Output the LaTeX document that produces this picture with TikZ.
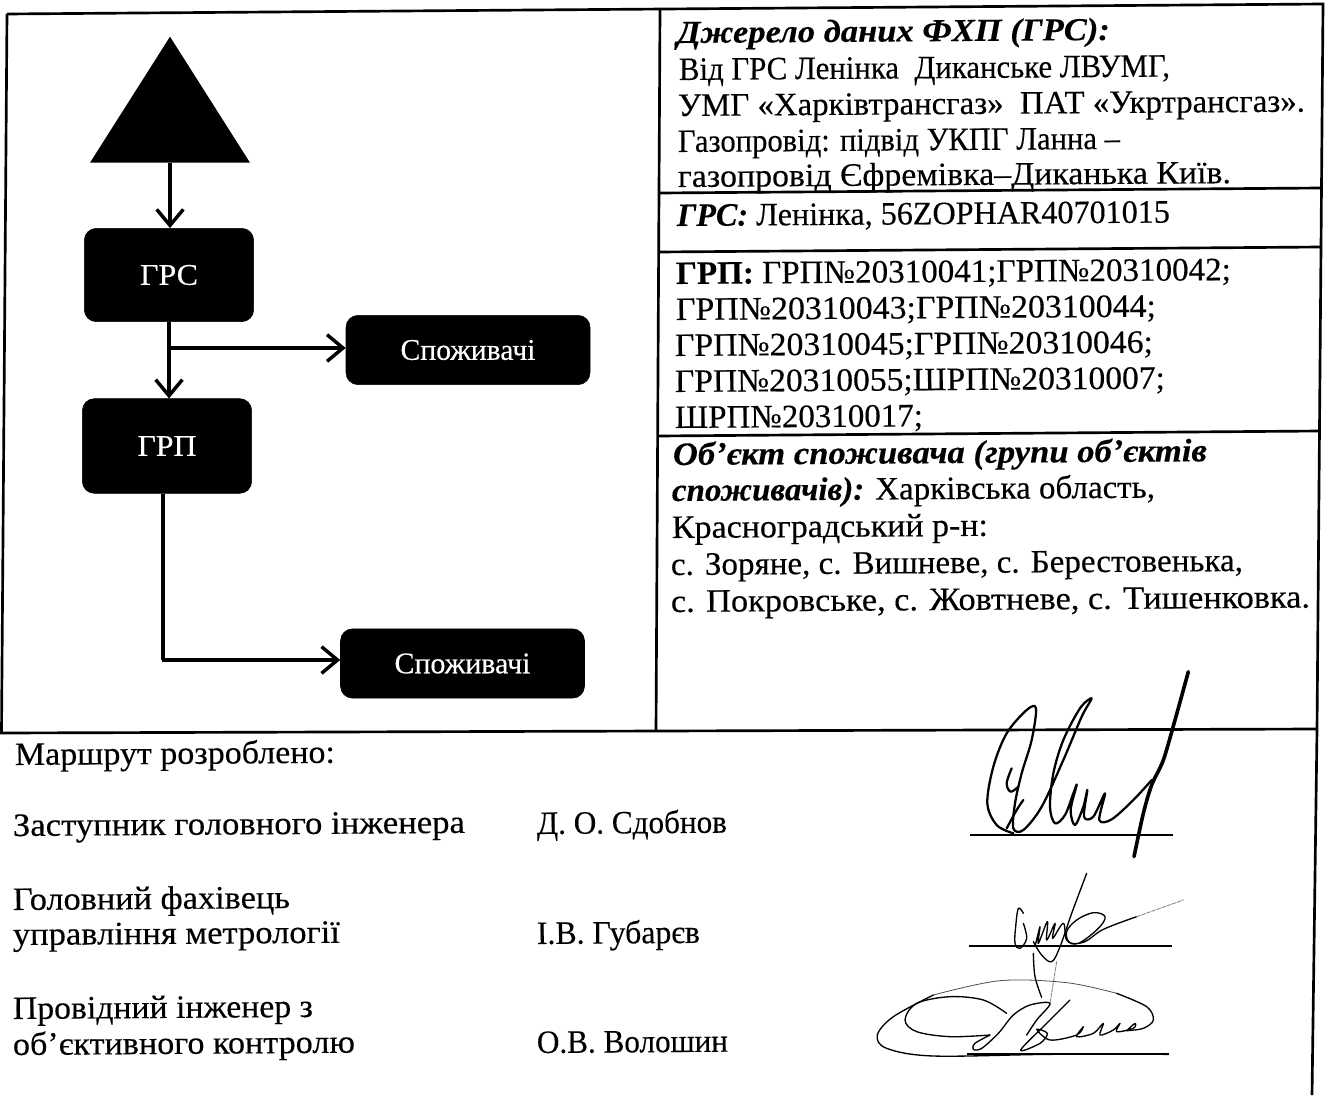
\documentclass[tikz,border=0pt]{standalone}
\usepackage{fontspec}
\usepackage{graphicx}
\setmainfont[FakeBold=0.3]{Liberation Serif}
\usetikzlibrary{arrows.meta,shapes.geometric}
\newdimen\pxu \pxu=0.75pt
\tikzset{
  txt/.style={anchor=base west,inner sep=0pt,outer sep=0pt,rotate=0.4,font=\fontsize{24.5}{28}\selectfont,text=black},
  frameline/.style={line width=2pt,black},
  blackbox/.style={draw=black,fill=black,rounded corners=9pt,inner sep=0pt,text=white,font=\fontsize{22.5}{26}\selectfont},
  conn/.style={line width=3pt,black,-{Straight Barb[length=12pt,width=20pt,line width=2.6pt]}},
  plainconn/.style={line width=3pt,black},
  sigthin/.style={line width=1pt,black,line cap=round,line join=round},
  sigmid/.style={line width=1.7pt,black,line cap=round,line join=round},
  sigthick/.style={line width=2.7pt,black,line cap=round,line join=round},
  sigfaint/.style={line width=.7pt,black!45,line cap=round,line join=round,dashed,dash pattern=on 3pt off 1pt},
  sigline/.style={line width=2.2pt,black}
}
\newcommand\tl[5]{\node[txt] (#1) at (#2,#3) {\resizebox{#4\pxu}{\height}{#5}};}
\newcommand\bt[2]{\resizebox{#1\pxu}{\height}{#2}}
\begin{document}
\begin{tikzpicture}[x=0.75pt,y=-0.75pt]
\useasboundingbox (0,0) rectangle (1330,1095);
% frame
\draw[frameline] (7,14) -- (1323,4) -- (1317,729) -- (1312,1095);
\draw[frameline] (7,14) -- (1.5,733);
\draw[frameline] (0,733) -- (1317,729);
\draw[frameline] (660,10) -- (656,731);
\draw[frameline] (660,193) -- (1321,188);
\draw[frameline] (659,252) -- (1321,247);
\draw[frameline] (658,436) -- (1320,431);
% diagram
\node[isosceles triangle,isosceles triangle stretches=true,shape border rotate=90,
      minimum width=120pt,minimum height=94.5pt,inner sep=0pt,fill=black,anchor=apex] (src) at (170,36) {};
\node[blackbox,minimum width=127pt,minimum height=70pt] (grs) at (169,275) {\bt{58}{ГРС}};
\node[blackbox,minimum width=127pt,minimum height=71pt] (grp) at (167,446) {\bt{59}{ГРП}};
\node[blackbox,minimum width=183pt,minimum height=52pt] (con1) at (468,350) {\bt{135}{Споживачі}};
\node[blackbox,minimum width=183pt,minimum height=52pt] (con2) at (462.5,663.5) {\bt{136}{Споживачі}};
\coordinate (j1) at (170,348);
\draw[conn] (src.lower side) -- (src.lower side |- grs.north);
\draw[conn] (grs.south) -- (grs.south |- grp.north);
\draw[conn] (j1) -- (con1.west |- j1);
\coordinate (g1) at (163,494);
\coordinate (g2) at (163,660);
\draw[plainconn] (g1) -- (g2);
\draw[conn] ([xshift=-1pt]g2) -- (con2.west |- g2);
% right text
\tl{a1}{677}{43}{433}{{\fontsize{24}{28}\selectfont\bfseries\itshape Джерело даних ФХП (ГРС):}}
\tl{a2}{679}{80}{491}{Від ГРС Ленінка\ \ Диканське ЛВУМГ,}
\tl{a3}{678}{116}{627}{УМГ «Харківтрансгаз»\ \ ПАТ «Укртрансгаз».}
\tl{a4}{678}{152}{442}{Газопровід: підвід УКПГ Ланна –}
\tl{a5}{678}{187}{553}{газопровід Єфремівка–Диканька Київ.}
\tl{b1}{677}{226}{493}{{\bfseries\itshape ГРС:} Ленінка, 56ZOPHAR40701015}
\tl{c1}{676}{284}{555}{{\bfseries ГРП:} ГРП№20310041;ГРП№20310042;}
\tl{c2}{676}{320}{480}{ГРП№20310043;ГРП№20310044;}
\tl{c3}{675}{356}{478}{ГРП№20310045;ГРП№20310046;}
\tl{c4}{675}{392}{490}{ГРП№20310055;ШРП№20310007;}
\tl{c5}{675}{428}{248}{ШРП№20310017;}
\tl{d1}{673}{465}{534}{{\bfseries\itshape Об’єкт споживача (групи об’єктів}}
\tl{d2}{672}{501}{483}{{\bfseries\itshape споживачів):} Харківська область,}
\tl{d3}{672}{538}{316}{Красноградський р-н:}
\tl{d4}{671}{575}{572}{с. Зоряне, с. Вишневе, с. Берестовенька,}
\tl{d5}{671}{612}{639}{с. Покровське, с. Жовтневе, с. Тишенковка.}
% lower text
\tl{e1}{15}{765}{320}{Маршрут розроблено:}
\tl{e2}{13}{836}{452}{Заступник головного інженера}
\tl{e3}{537}{834}{190}{Д. О. Сдобнов}
\tl{e4}{13}{910}{277}{Головний фахівець}
\tl{e5}{13}{945}{327}{управління метрології}
\tl{e6}{537}{944}{163}{І.В. Губарєв}
\tl{e7}{13}{1019}{300}{Провідний інженер з}
\tl{e8}{13}{1055}{342}{об’єктивного контролю}
\tl{e9}{537}{1053}{191}{О.В. Волошин}
% signature lines
\draw[sigline] (970,835) -- (1173,835);
\draw[sigline] (969,946) -- (1172,946);
\draw[sigline] (967,1054) -- (1169,1054);
% signatures
\begin{scope}[shift={(850,660)},x=0.25pt,y=-0.25pt]
\draw[sigmid] plot[smooth,tension=.55] coordinates {(490,520)(440,495)(412,430)(430,320)(470,220)(530,150)(558,145)(545,240)(515,340)(495,430)(490,505)(520,510)(575,440)(640,300)(695,170)(725,115)(690,145)(640,240)(610,340)(600,440)(615,490)(645,465)(670,400)(680,375)(662,450)(675,495)(700,440)(712,390)(702,470)(730,470)(765,400)(748,480)(785,478)(850,420)(905,360)};
\draw[sigmid] plot[smooth,tension=.6] coordinates {(485,325)(470,370)(482,395)(505,380)};
\draw[sigmid] plot[smooth,tension=.6] coordinates {(470,505)(500,450)(520,420)};
\draw[sigthick] plot[smooth,tension=.5] coordinates {(1015,35)(975,180)(940,300)(905,375)(880,460)(852,590)};
% second
\draw[sigthin] plot[smooth,tension=.6] coordinates {(710,640)(665,760)(630,860)(605,905)(575,885)(550,845)};
\draw[sigthin] plot[smooth,tension=.6] coordinates {(520,760)(505,745)(497,800)(495,850)(510,865)(530,835)(520,790)};
\draw[sigthin] plot[smooth,tension=.6] coordinates {(555,860)(570,800)(565,850)(592,785)(590,840)(615,790)(608,835)(640,790)(650,840)(685,850)(745,805)(765,770)(730,758)(680,780)(650,815)(660,848)(705,845)(760,808)(860,770)};
\draw[sigfaint] (860,770) -- (1000,720);
\draw[sigthin] plot[smooth,tension=.6] coordinates {(550,880)(555,950)(575,1012)};
\draw[sigfaint] (620,905) -- (600,1030);
% third
\draw[sigthin] plot[smooth,tension=.55] coordinates {(955,1183)(600,1183)(250,1188)(110,1165)(82,1125)(130,1070)(250,1005)};
\draw[line width=.6pt,black!70] plot[smooth,tension=.55] coordinates {(250,1005)(450,962)(650,968)(800,1000)};
\draw[sigthin] plot[smooth,tension=.55] coordinates {(800,1000)(890,1040)(910,1080)(880,1105)(830,1112)};
\draw[sigthin] plot[smooth,tension=.55] coordinates {(420,1125)(300,1130)(200,1115)(165,1080)(200,1030)(300,1010)(400,1020)(470,1060)};
\draw[sigthin] plot[smooth,tension=.55] coordinates {(420,1125)(375,1150)(370,1168)(395,1165)(445,1120)(490,1065)(540,1035)(600,1030)(560,1080)(530,1125)};
\draw[sigthin] plot[smooth,tension=.55] coordinates {(660,1020)(590,1090)(512,1170)(570,1150)(592,1120)(560,1108)(600,1140)(680,1125)(700,1100)(680,1130)(730,1120)(760,1090)(750,1125)(790,1110)(810,1090)(800,1115)(850,1105)(855,1090)(830,1112)};
\end{scope}
\end{tikzpicture}
\end{document}
